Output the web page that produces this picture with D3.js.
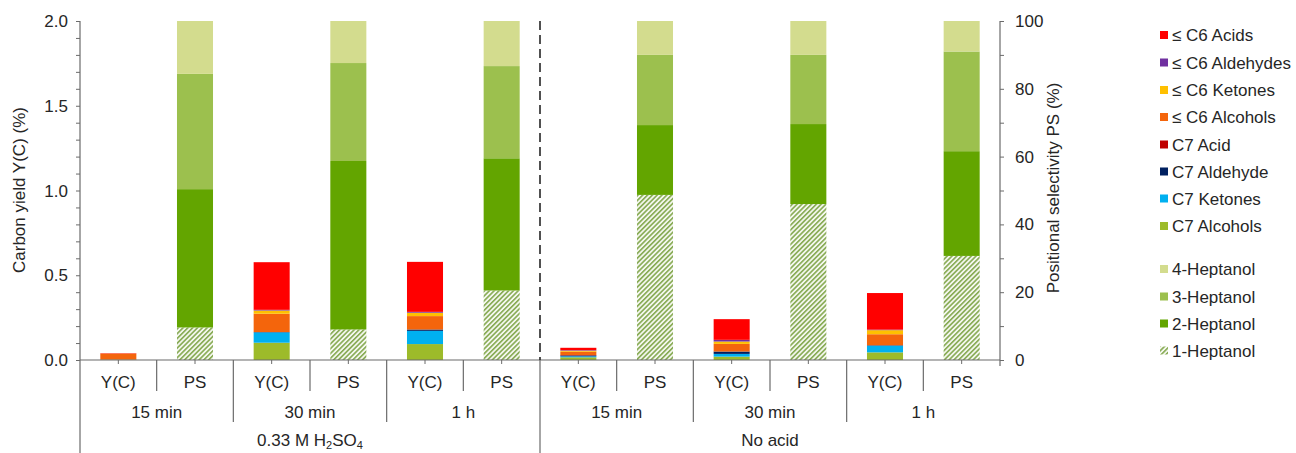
<!DOCTYPE html>
<html>
<head>
<meta charset="utf-8">
<script src="https://cdn.jsdelivr.net/npm/d3@7"></script>
<style>
  html, body { margin: 0; padding: 0; background: #fff; }
  svg { display: block; font-family: "Liberation Sans", Arial, sans-serif; }
</style>
</head>
<body>
<svg id="chart" width="1296" height="453"></svg>
<script>
// Reaction conditions and sampling times
const conditions = ["acid", "none"];
const times = ["15 min", "30 min", "1 h"];
const barKinds = ["Y(C)", "PS"];

// Carbon yield Y(C) (%) per product class, order: acid 15 min, 30 min, 1 h, no acid 15 min, 30 min, 1 h
const c7Alcohols  = [0.002, 0.102, 0.094, 0.016, 0.020, 0.045];
const c7Ketones   = [0.000, 0.061, 0.078, 0.006, 0.016, 0.039];
const c7Aldehyde  = [0.000, 0.002, 0.008, 0.005, 0.014, 0.003];
const c7Acid      = [0.000, 0.000, 0.000, 0.002, 0.000, 0.000];
const c6Alcohols  = [0.036, 0.108, 0.079, 0.020, 0.045, 0.065];
const c6Ketones   = [0.000, 0.019, 0.020, 0.006, 0.014, 0.024];
const c6Aldehydes = [0.000, 0.004, 0.005, 0.003, 0.010, 0.003];
const c6Acids     = [0.002, 0.281, 0.295, 0.014, 0.122, 0.216];

// Positional selectivity PS (%) of the heptanols, same order
const heptanol1 = [9.6, 9.0, 20.5, 48.7, 46.0, 30.7];
const heptanol2 = [40.8, 49.7, 39.0, 20.6, 23.6, 30.9];
const heptanol3 = [34.0, 28.9, 27.2, 20.7, 20.4, 29.4];
const heptanol4 = [15.6, 12.4, 13.3, 10.0, 10.0, 9.0];

// Axis ticks
const yieldTicks = [0, 0.5, 1.0, 1.5, 2.0];
const psTicks = [0, 20, 40, 60, 80, 100];

// Stack definitions, bottom to top
const yieldSeries = [
  { name: "C7 Alcohols",     values: c7Alcohols,  color: "#9dbb2a" },
  { name: "C7 Ketones",      values: c7Ketones,   color: "#00b0f0" },
  { name: "C7 Aldehyde",     values: c7Aldehyde,  color: "#002060" },
  { name: "C7 Acid",         values: c7Acid,      color: "#c00000" },
  { name: "\u2264 C6 Alcohols",  values: c6Alcohols,  color: "#f4650c" },
  { name: "\u2264 C6 Ketones",   values: c6Ketones,   color: "#ffc000" },
  { name: "\u2264 C6 Aldehydes", values: c6Aldehydes, color: "#7030a0" },
  { name: "\u2264 C6 Acids",     values: c6Acids,     color: "#ff0000" }
];
const psSeries = [
  { name: "1-Heptanol", values: heptanol1, color: "url(#hatch)" },
  { name: "2-Heptanol", values: heptanol2, color: "#63a500" },
  { name: "3-Heptanol", values: heptanol3, color: "#9cc04e" },
  { name: "4-Heptanol", values: heptanol4, color: "#d3dc8e" }
];

const svg = d3.select("#chart");
const textColor = "#262626";
const axisColor = "#6b6b6b";
const fontSize = 17;

// hatch pattern for 1-heptanol
const defs = svg.append("defs");
const pat = defs.append("pattern")
  .attr("id", "hatch").attr("patternUnits", "userSpaceOnUse")
  .attr("width", 3.4).attr("height", 3.4)
  .attr("patternTransform", "rotate(45)");
pat.append("rect").attr("width", 3.4).attr("height", 3.4).attr("fill", "#f4f7ee");
pat.append("line").attr("x1", 0.8).attr("y1", 0).attr("x2", 0.8).attr("y2", 3.4)
  .attr("stroke", "#86aa52").attr("stroke-width", 1.6);

// Category slots: each condition/time gives a Y(C) and a PS bar
const slots = [];
conditions.forEach((c, ci) => times.forEach((t, ti) => barKinds.forEach(k => {
  slots.push({ id: `${c}|${t}|${k}`, cond: ci, time: ti, kind: k, idx: ci * times.length + ti });
})));

const plotLeft = 80, plotRight = 1000, plotTop = 21, base = 360;
const x = d3.scaleBand().domain(slots.map(s => s.id)).range([plotLeft, plotRight])
  .paddingInner(0.53).paddingOuter(0.265);
const step = x.step();
const yL = d3.scaleLinear().domain([0, 2]).range([base, plotTop]);
const yR = d3.scaleLinear().domain([0, 100]).range([base, plotTop]);

function label(g, px, py, str, anchor) {
  return g.append("text")
    .attr("x", px).attr("y", py)
    .attr("text-anchor", anchor || "middle")
    .attr("fill", textColor).attr("font-size", fontSize)
    .text(str);
}

// Stacked bars
const yieldStack = d3.stack().keys(d3.range(yieldSeries.length))
  .value((d, k) => yieldSeries[k].values[d])(d3.range(6));
const psStack = d3.stack().keys(d3.range(psSeries.length))
  .value((d, k) => psSeries[k].values[d])(d3.range(6));

const slotOf = (idx, kind) => slots.find(s => s.idx === idx && s.kind === kind).id;

const bars = svg.append("g");
yieldStack.forEach((layer, k) => {
  bars.append("g").attr("fill", yieldSeries[k].color)
    .selectAll("rect").data(layer.filter(d => d[1] - d[0] > 0)).join("rect")
    .attr("x", d => x(slotOf(d.data, "Y(C)")))
    .attr("width", x.bandwidth())
    .attr("y", d => yL(d[1]))
    .attr("height", d => yL(d[0]) - yL(d[1]));
});
psStack.forEach((layer, k) => {
  bars.append("g").attr("fill", psSeries[k].color)
    .selectAll("rect").data(layer).join("rect")
    .attr("x", d => x(slotOf(d.data, "PS")))
    .attr("width", x.bandwidth())
    .attr("y", d => yR(d[1]))
    .attr("height", d => yR(d[0]) - yR(d[1]));
});

// Left axis
const axL = svg.append("g").attr("transform", `translate(${plotLeft},0)`)
  .call(d3.axisLeft(yL).tickValues(d3.range(0, 2.001, 0.1)).tickSize(4).tickFormat(""));
axL.select(".domain").remove();
axL.selectAll("line").attr("stroke", axisColor);
svg.append("line").attr("x1", plotLeft).attr("x2", plotLeft).attr("y1", plotTop).attr("y2", 453)
  .attr("stroke", axisColor).attr("stroke-width", 1.2);
yieldTicks.forEach(v => label(svg, 68, yL(v) + 6, d3.format(".1f")(v), "end"));

// Right axis
const axR = svg.append("g").attr("transform", `translate(${plotRight},0)`)
  .call(d3.axisRight(yR).tickValues(d3.range(0, 101, 10)).tickSize(4).tickFormat(""));
axR.select(".domain").remove();
axR.selectAll("line").attr("stroke", axisColor);
svg.append("line").attr("x1", plotRight).attr("x2", plotRight).attr("y1", plotTop).attr("y2", 366)
  .attr("stroke", axisColor).attr("stroke-width", 1.2);
psTicks.forEach(v => label(svg, 1015, yR(v) + 6, String(v), "start"));

// Axis titles
svg.append("text")
  .attr("transform", "translate(25,190) rotate(-90)")
  .attr("text-anchor", "middle").attr("fill", textColor).attr("font-size", fontSize)
  .text("Carbon yield Y(C) (%)");
svg.append("text")
  .attr("transform", "translate(1059,188) rotate(-90)")
  .attr("text-anchor", "middle").attr("fill", textColor).attr("font-size", fontSize)
  .text("Positional selectivity PS (%)");

// Category axis
svg.append("line").attr("x1", plotLeft).attr("x2", plotRight).attr("y1", base).attr("y2", base)
  .attr("stroke", axisColor).attr("stroke-width", 1.2);
const catG = svg.append("g");
slots.forEach(s => {
  const cx = x(s.id) + x.bandwidth() / 2;
  catG.append("line").attr("x1", cx).attr("x2", cx).attr("y1", base).attr("y2", base + 4)
    .attr("stroke", axisColor);
  label(catG, cx, 388, s.kind);
});
// dividers between Y(C) and PS of each time
d3.range(6).forEach(i => {
  const dx = plotLeft + step * (2 * i + 1);
  catG.append("line").attr("x1", dx).attr("x2", dx).attr("y1", base).attr("y2", 391)
    .attr("stroke", axisColor).attr("stroke-width", 1.2);
});
// dividers between times
[1, 2, 4, 5].forEach(i => {
  const dx = plotLeft + step * 2 * i;
  catG.append("line").attr("x1", dx).attr("x2", dx).attr("y1", base).attr("y2", 422)
    .attr("stroke", axisColor).attr("stroke-width", 1.2);
});
// time labels
conditions.forEach((c, ci) => times.forEach((t, ti) => {
  const cx = plotLeft + step * (ci * 6 + ti * 2 + 1);
  label(catG, cx, 418, t);
}));
// condition separator
const midX = plotLeft + step * 6;
svg.append("line").attr("x1", midX).attr("x2", midX).attr("y1", plotTop).attr("y2", base)
  .attr("stroke", "#262626").attr("stroke-width", 1.6).attr("stroke-dasharray", "9,5");
svg.append("line").attr("x1", midX).attr("x2", midX).attr("y1", base).attr("y2", 453)
  .attr("stroke", axisColor).attr("stroke-width", 1.2);
// condition labels
const acidLabel = catG.append("text")
  .attr("x", plotLeft + step * 3).attr("y", 446)
  .attr("text-anchor", "middle").attr("fill", textColor).attr("font-size", fontSize);
acidLabel.append("tspan").text("0.33 M H");
acidLabel.append("tspan").attr("font-size", 11).attr("dy", 3).text("2");
acidLabel.append("tspan").attr("dy", -3).text("SO");
acidLabel.append("tspan").attr("font-size", 11).attr("dy", 3).text("4");
label(catG, plotLeft + step * 9, 446, "No acid");

// Legend
const legendRows = [...yieldSeries].reverse().map(s => ({ name: s.name, color: s.color }))
  .concat([...psSeries].reverse().map(s => ({ name: s.name, color: s.color })));
const legendY = [35, 62.5, 90, 117, 144.5, 171.5, 198.5, 226, 269, 296.5, 323.5, 350.5];
const leg = svg.append("g");
legendRows.forEach((r, i) => {
  leg.append("rect").attr("x", 1160).attr("y", legendY[i] - 4).attr("width", 8).attr("height", 8)
    .attr("fill", r.color);
  label(leg, 1172, legendY[i] + 6, r.name, "start");
});
</script>
</body>
</html>
